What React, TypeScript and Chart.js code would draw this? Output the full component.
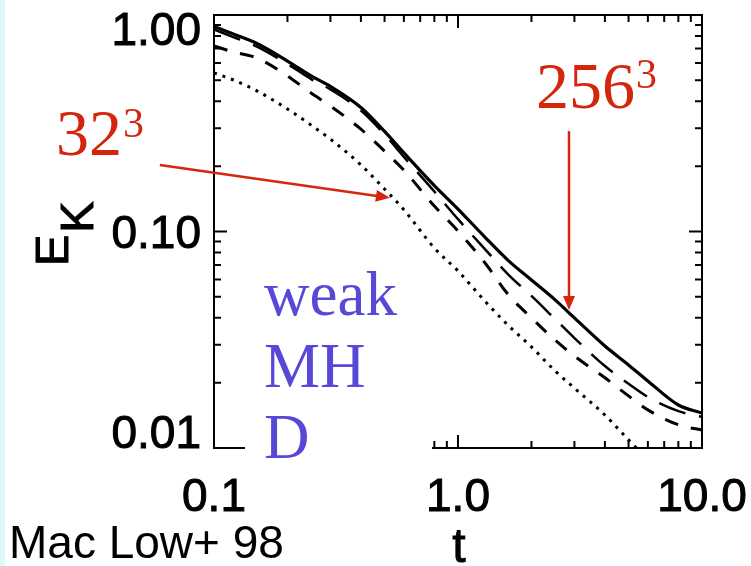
import React, { useEffect, useRef } from "react";
import { Chart, registerables } from "chart.js";

Chart.register(...registerables);

// ---- data ----
const T = [0.1, 0.12, 0.15, 0.2, 0.25, 0.3, 0.4, 0.5, 0.6, 0.8, 1.0, 1.3, 1.6, 2, 2.5, 3, 4, 5, 6, 8, 10];
const E_256 = [0.885, 0.817, 0.739, 0.613, 0.523, 0.468, 0.374, 0.29, 0.231, 0.163, 0.127, 0.0933, 0.0738, 0.0597, 0.0483, 0.0399, 0.0296, 0.0242, 0.0204, 0.0158, 0.0145];
const E_128 = [0.857, 0.791, 0.715, 0.594, 0.506, 0.453, 0.362, 0.281, 0.221, 0.153, 0.114, 0.0821, 0.0636, 0.0504, 0.0394, 0.0322, 0.0239, 0.0198, 0.0172, 0.0148, 0.0139];
const E_64 = [0.719, 0.675, 0.633, 0.523, 0.436, 0.38, 0.297, 0.235, 0.192, 0.131, 0.1005, 0.0708, 0.0514, 0.0399, 0.0315, 0.0266, 0.0211, 0.0174, 0.015, 0.0128, 0.0121];
const T_32 = [0.1, 0.12, 0.15, 0.2, 0.25, 0.3, 0.4, 0.5, 0.6, 0.8, 1.0, 1.3, 1.6, 2, 2.5, 3, 4, 5, 6];
const E_32 = [0.54, 0.501, 0.446, 0.368, 0.31, 0.267, 0.203, 0.157, 0.126, 0.0839, 0.0657, 0.0472, 0.037, 0.0293, 0.0227, 0.0189, 0.0142, 0.0109, 0.0088];

const X_TICKS = [0.1, 1, 10];
const X_TICK_LABELS = ["0.1", "1.0", "10.0"];
const Y_TICKS = [1, 0.1, 0.01];
const Y_TICK_LABELS = ["1.00", "0.10", "0.01"];

const X_TITLE = "t";
const Y_TITLE = "E";
const Y_TITLE_SUB = "K";
const CREDIT = "Mac Low+ 98";
const NOTE_LINES = ["weak", "MH", "D"];
const LABEL_32 = { base: "32", sup: "3" };
const LABEL_256 = { base: "256", sup: "3" };
// arrows in data coordinates [t, E]
const ARROW_32 = { from: [0.06, 0.203], to: [0.526, 0.143] };
const ARROW_256 = { from: [2.85, 0.291], to: [2.85, 0.0434] };

const RED = "#d4260c";
const BLUE = "#5848d8";

const toPts = (xs: number[], ys: number[]) => ys.map((y, i) => ({ x: xs[i], y }));

function drawArrow(ctx: CanvasRenderingContext2D, x1: number, y1: number, x2: number, y2: number) {
  const ang = Math.atan2(y2 - y1, x2 - x1);
  const len = 14;
  const hw = 6;
  ctx.save();
  ctx.strokeStyle = RED;
  ctx.fillStyle = RED;
  ctx.lineWidth = 2.5;
  ctx.beginPath();
  ctx.moveTo(x1, y1);
  ctx.lineTo(x2 - Math.cos(ang) * len * 0.8, y2 - Math.sin(ang) * len * 0.8);
  ctx.stroke();
  ctx.beginPath();
  ctx.moveTo(x2, y2);
  ctx.lineTo(x2 - Math.cos(ang) * len - Math.sin(ang) * hw, y2 - Math.sin(ang) * len + Math.cos(ang) * hw);
  ctx.lineTo(x2 - Math.cos(ang) * len + Math.sin(ang) * hw, y2 - Math.sin(ang) * len - Math.cos(ang) * hw);
  ctx.closePath();
  ctx.fill();
  ctx.restore();
}

function boldText(ctx: CanvasRenderingContext2D, s: string, x: number, y: number) {
  ctx.fillText(s, x, y);
  ctx.strokeText(s, x, y);
}

const decorPlugin = {
  id: "decor",
  beforeDraw(chart: any) {
    const ctx = chart.ctx as CanvasRenderingContext2D;
    ctx.save();
    ctx.fillStyle = "#ffffff";
    ctx.fillRect(0, 0, chart.width, chart.height);
    ctx.fillStyle = "rgb(222,247,250)";
    ctx.fillRect(0, 0, 5, chart.height);
    ctx.restore();
  },
  afterDraw(chart: any) {
    const ctx = chart.ctx as CanvasRenderingContext2D;
    const a = chart.chartArea;
    const xs = chart.scales.x;
    const ys = chart.scales.y;
    ctx.save();
    // frame
    ctx.strokeStyle = "#000";
    ctx.lineWidth = 2;
    ctx.strokeRect(a.left, a.top, a.right - a.left, a.bottom - a.top);
    // ticks
    ctx.lineWidth = 2;
    ctx.beginPath();
    for (const d of [0.1, 1]) {
      for (let m = 1; m <= 9; m++) {
        const v = d * m;
        const L = m === 1 ? 13 : 7;
        const px = xs.getPixelForValue(v);
        ctx.moveTo(px, a.bottom);
        ctx.lineTo(px, a.bottom - L);
        ctx.moveTo(px, a.top);
        ctx.lineTo(px, a.top + L);
      }
    }
    for (const d of [0.01, 0.1]) {
      for (let m = 1; m <= 9; m++) {
        const v = d * m;
        const L = m === 1 ? 13 : 7;
        const py = ys.getPixelForValue(v);
        ctx.moveTo(a.left, py);
        ctx.lineTo(a.left + L, py);
        ctx.moveTo(a.right, py);
        ctx.lineTo(a.right - L, py);
      }
    }
    ctx.stroke();
    // white box behind the note (hides part of the bottom axis)
    ctx.fillStyle = "#fff";
    ctx.fillRect(245, a.bottom - 16, 187, 20);

    // tick labels
    ctx.fillStyle = "#000";
    ctx.strokeStyle = "#000";
    ctx.lineWidth = 1;
    ctx.font = '46px "Liberation Sans", Arial, sans-serif';
    ctx.textAlign = "right";
    ctx.textBaseline = "alphabetic";
    Y_TICKS.forEach((v, i) => {
      const py = ys.getPixelForValue(v);
      let base = py + 16;
      if (base - 33 < a.top - 3) base = a.top - 3 + 33;
      if (base > a.bottom) base = a.bottom;
      boldText(ctx, Y_TICK_LABELS[i], a.left - 13, base);
    });
    ctx.textAlign = "center";
    X_TICKS.forEach((v, i) => {
      const px = xs.getPixelForValue(v);
      boldText(ctx, X_TICK_LABELS[i], px, a.bottom + 63);
    });
    // axis titles
    ctx.font = '48px "Liberation Sans", Arial, sans-serif';
    boldText(ctx, X_TITLE, (a.left + a.right) / 2 + 1, 562);
    ctx.save();
    ctx.translate(68, 266);
    ctx.rotate(-Math.PI / 2);
    ctx.textAlign = "left";
    ctx.font = '47px "Liberation Sans", Arial, sans-serif';
    boldText(ctx, Y_TITLE, 0, 0);
    const w = ctx.measureText(Y_TITLE).width;
    boldText(ctx, Y_TITLE_SUB, w + 2, 25);
    ctx.restore();
    // credit
    ctx.textAlign = "left";
    ctx.font = '46px "Liberation Sans", Arial, sans-serif';
    ctx.fillText(CREDIT, 9, 558);

    // note
    ctx.fillStyle = BLUE;
    ctx.font = '63px "Liberation Serif", "Times New Roman", serif';
    const baselines = [315, 387, 458];
    NOTE_LINES.forEach((s, i) => ctx.fillText(s, 264, baselines[i]));

    // resolution labels
    ctx.fillStyle = RED;
    ctx.font = '66px "Liberation Serif", "Times New Roman", serif';
    ctx.fillText(LABEL_32.base, 56, 155);
    let bw = ctx.measureText(LABEL_32.base).width;
    ctx.font = '42px "Liberation Serif", "Times New Roman", serif';
    ctx.fillText(LABEL_32.sup, 56 + bw + 1, 137);
    ctx.font = '66px "Liberation Serif", "Times New Roman", serif';
    ctx.fillText(LABEL_256.base, 536, 108);
    bw = ctx.measureText(LABEL_256.base).width;
    ctx.font = '42px "Liberation Serif", "Times New Roman", serif';
    ctx.fillText(LABEL_256.sup, 536 + bw + 1, 88);

    // arrows
    drawArrow(ctx, xs.getPixelForValue(ARROW_32.from[0]), ys.getPixelForValue(ARROW_32.from[1]), xs.getPixelForValue(ARROW_32.to[0]), ys.getPixelForValue(ARROW_32.to[1]));
    drawArrow(ctx, xs.getPixelForValue(ARROW_256.from[0]), ys.getPixelForValue(ARROW_256.from[1]), xs.getPixelForValue(ARROW_256.to[0]), ys.getPixelForValue(ARROW_256.to[1]));
    ctx.restore();
  },
};

export default function App() {
  const ref = useRef<HTMLCanvasElement>(null);
  useEffect(() => {
    const common = { pointRadius: 0, borderColor: "#000", fill: false, cubicInterpolationMode: "monotone" as const, clip: 0 };
    const chart = new Chart(ref.current!, {
      type: "line",
      data: {
        datasets: [
          { ...common, label: "32^3", data: toPts(T_32, E_32), borderWidth: 3, borderDash: [3, 6] },
          { ...common, label: "64^3", data: toPts(T, E_64), borderWidth: 3, borderDash: [14, 13] },
          { ...common, label: "128^3", data: toPts(T, E_128), borderWidth: 2.5, borderDash: [28, 14] },
          { ...common, label: "256^3", data: toPts(T, E_256), borderWidth: 3.2 },
        ],
      },
      options: {
        responsive: false,
        animation: false,
        events: [],
        layout: { padding: { left: 0, top: 15, right: 49, bottom: 0 } },
        plugins: { legend: { display: false }, tooltip: { enabled: false } },
        scales: {
          x: {
            type: "logarithmic",
            min: 0.1,
            max: 10,
            grid: { display: false },
            border: { display: false },
            ticks: { display: false },
            afterFit: (s: any) => { s.height = 118; },
          },
          y: {
            type: "logarithmic",
            min: 0.01,
            max: 1,
            grid: { display: false },
            border: { display: false },
            ticks: { display: false },
            afterFit: (s: any) => { s.width = 214; },
          },
        },
      },
      plugins: [decorPlugin],
    });
    return () => chart.destroy();
  }, []);
  return (
    <div style={{ position: "absolute", left: 0, top: 0, width: 751, height: 566, background: "#fff" }}>
      <canvas ref={ref} width={751} height={566} style={{ display: "block", width: 751, height: 566 }} />
    </div>
  );
}
